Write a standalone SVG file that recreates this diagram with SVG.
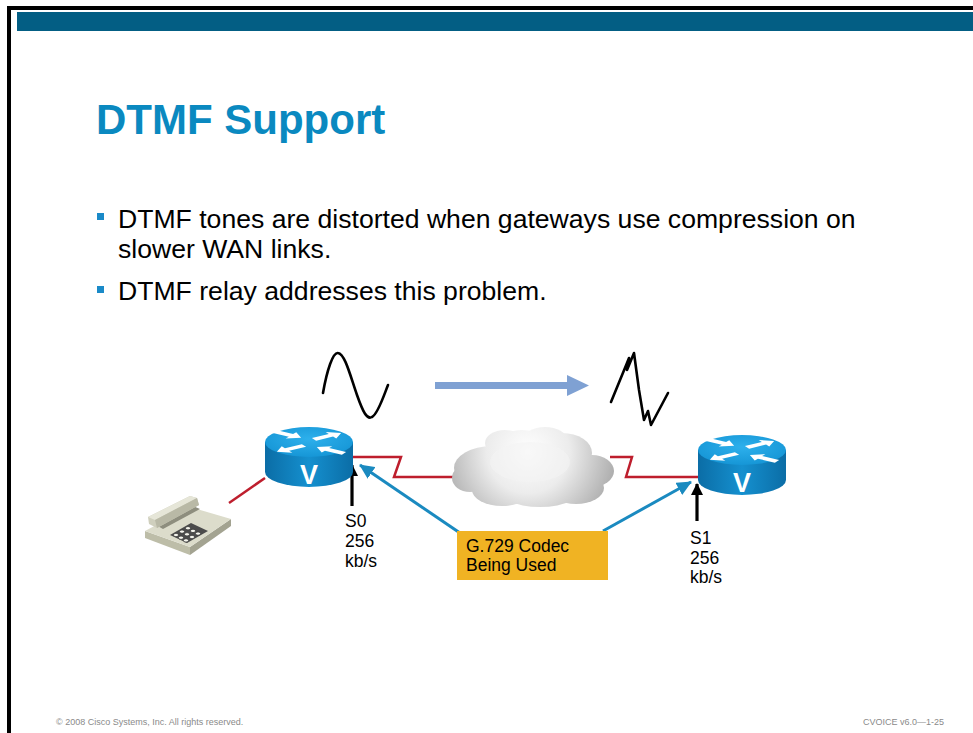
<svg xmlns="http://www.w3.org/2000/svg" width="973" height="733" viewBox="0 0 973 733">
  <style>
    .title { font-family: "Liberation Sans", Arial, sans-serif; font-weight: bold; font-size: 42px; fill: #0A89C0; }
    .bullet { font-family: "Liberation Sans", Arial, sans-serif; font-size: 26.6px; fill: #000; }
    .lbl { font-family: "Liberation Sans", Arial, sans-serif; font-size: 17.5px; fill: #000; }
    .foot { font-family: "Liberation Sans", Arial, sans-serif; font-size: 9px; fill: #8A8A8A; }
    .wan { fill: none; stroke: #BE1E2D; stroke-width: 2.5; }
    .wave { fill: none; stroke: #000; stroke-width: 2.6; stroke-linecap: round; stroke-linejoin: round; }
    .blue { fill: none; stroke: #1A8AC0; stroke-width: 3; }
    .blk { fill: none; stroke: #000; stroke-width: 3.2; }
    .vtxt { font-family: "Liberation Sans", Arial, sans-serif; font-weight: bold; font-size: 27px; fill: #fff; text-anchor: middle; }
    .key { fill: #F4F4EC; stroke: #3A3A3A; stroke-width: 0.8; }
  </style>
  <defs>
    <linearGradient id="side" x1="0" y1="0" x2="1" y2="0">
      <stop offset="0" stop-color="#0B6DA6"/>
      <stop offset="0.5" stop-color="#1590CF"/>
      <stop offset="1" stop-color="#0B6DA6"/>
    </linearGradient>
    <radialGradient id="top" cx="0.5" cy="0.4" r="0.6">
      <stop offset="0" stop-color="#2DB0EC"/>
      <stop offset="1" stop-color="#1696D6"/>
    </radialGradient>
    <radialGradient id="cloudG" gradientUnits="userSpaceOnUse" cx="528" cy="452" r="92">
      <stop offset="0" stop-color="#FFFFFF"/>
      <stop offset="0.45" stop-color="#ECECEC"/>
      <stop offset="1" stop-color="#A9A9A9"/>
    </radialGradient>
    <marker id="hdBlue" markerUnits="userSpaceOnUse" markerWidth="16" markerHeight="14" refX="14" refY="7" orient="auto">
      <path d="M0,0 L15,7 L0,14 Z" fill="#1A8AC0"/>
    </marker>
    <marker id="hdBlk" markerUnits="userSpaceOnUse" markerWidth="12" markerHeight="12" refX="11" refY="6" orient="auto">
      <path d="M0,0 L12,6 L0,12 Z" fill="#000"/>
    </marker>
    <!-- one flat arrow on the router lid, pointing along +x -->
    <path id="rarr" d="M0,-4 L20,-4 L20,-10 L32,0 L20,10 L20,4 L0,4 Z" fill="#fff"/>
    <!-- router icon centred on its lid -->
    <g id="router">
      <path d="M-44,0 L-44,30 A44,15 0 0 0 44,30 L44,0 Z" fill="url(#side)"/>
      <ellipse cx="0" cy="0" rx="44" ry="15" fill="url(#top)"/>
      <g transform="scale(1,0.38)">
        <use href="#rarr" transform="translate(-35,-28) rotate(32)"/>
        <use href="#rarr" transform="translate(35,30) rotate(212)"/>
        <use href="#rarr" transform="translate(5,-7) rotate(-32)"/>
        <use href="#rarr" transform="translate(-5,9) rotate(148)"/>
      </g>
    </g>
  </defs>

  <!-- slide frame -->
  <rect x="7" y="6" width="966" height="4" fill="#000"/>
  <rect x="7" y="6" width="4" height="727" fill="#000"/>
  <rect x="17" y="12" width="956" height="19" fill="#035E84"/>

  <text class="title" x="96" y="134">DTMF Support</text>

  <rect x="97" y="213" width="7" height="7" fill="#1A8AC8"/>
  <text class="bullet" x="118" y="228">DTMF tones are distorted when gateways use compression on</text>
  <text class="bullet" x="118" y="258">slower WAN links.</text>
  <rect x="97" y="286" width="7" height="7" fill="#1A8AC8"/>
  <text class="bullet" x="118" y="300">DTMF relay addresses this problem.</text>

  <!-- tone waveforms -->
  <path class="wave" d="M323,393 C327,370 333,352 338,353 C345,354 350,375 357,395 C363,412 367,420 372,417 C378,414 384,395 388,385"/>
  <path d="M435,382 H567 V375 L589,385.5 L567,396 V389 H435 Z" fill="#7FA1D3"/>
  <path class="wave" d="M611,402 L627,363 L629,358 L627,370 L634,353 L639,390 L644,420 L648,411 L651,425 L668,393"/>

  <!-- connectors -->
  <g id="links">
    <path class="wan" d="M229,503 L265,478"/>
    <path class="wan" d="M353,457 H401 L394,477 H456"/>
    <path class="wan" d="M610,457 H632 L626,477 H699"/>
    <path class="blk" d="M352,506 V465" marker-end="url(#hdBlk)"/>
    <path class="blk" d="M697,521 V484" marker-end="url(#hdBlk)"/>
    <path class="blue" d="M460,533 L360,465" marker-end="url(#hdBlue)"/>
    <path class="blue" d="M603,531 L691,482" marker-end="url(#hdBlue)"/>
  </g>

  <!-- WAN cloud -->
  <g id="cloud" fill="url(#cloudG)">
    <ellipse cx="470" cy="478" rx="18" ry="14"/>
    <ellipse cx="492" cy="468" rx="38" ry="22"/>
    <ellipse cx="505" cy="443" rx="20" ry="13"/>
    <ellipse cx="545" cy="440" rx="22" ry="13"/>
    <ellipse cx="522" cy="452" rx="30" ry="22"/>
    <ellipse cx="562" cy="453" rx="30" ry="20"/>
    <ellipse cx="592" cy="471" rx="22" ry="16"/>
    <ellipse cx="502" cy="490" rx="30" ry="16"/>
    <ellipse cx="576" cy="488" rx="28" ry="16"/>
    <ellipse cx="540" cy="486" rx="45" ry="21"/>
    <ellipse cx="530" cy="462" rx="40" ry="20" fill="#F4F4F4" opacity="0.6"/>
  </g>

  <!-- routers -->
  <g id="router-left">
    <use href="#router" x="309" y="442"/>
    <text class="vtxt" x="309" y="484">V</text>
  </g>
  <g id="router-right">
    <use href="#router" x="742" y="450"/>
    <text class="vtxt" x="742" y="492">V</text>
  </g>

  <!-- desk phone -->
  <g id="phone">
    <polygon points="145,531 190,547 190,555 145,538" fill="#BDBDA8"/>
    <polygon points="190,547 231,519 231,526 190,555" fill="#A3A391"/>
    <polygon points="145,531 190,507 231,519 190,547" fill="#DCDCCB"/>
    <!-- handset -->
    <polygon points="156,525 193,506 200,509 163,529" fill="#8E8E7E"/>
    <polygon points="149,524 148,517 190,496 197,498 199,505 157,528" fill="#CFCFBD"/>
    <polygon points="148,517 190,496 197,498 155,520" fill="#E6E6D8"/>
    <polygon points="197,498 199,505 157,528 155,520" fill="#B9B9A6"/>
    <!-- keypad -->
    <polygon points="170,535 191,523 208,531 187,543" fill="#4C4C4C"/>
    <g>
      <ellipse class="key" cx="176" cy="535" rx="2.6" ry="1.7"/>
      <ellipse class="key" cx="182" cy="531.6" rx="2.6" ry="1.7"/>
      <ellipse class="key" cx="188" cy="528.2" rx="2.6" ry="1.7"/>
      <ellipse class="key" cx="181" cy="537.7" rx="2.6" ry="1.7"/>
      <ellipse class="key" cx="187" cy="534.3" rx="2.6" ry="1.7"/>
      <ellipse class="key" cx="193" cy="530.9" rx="2.6" ry="1.7"/>
      <ellipse class="key" cx="186" cy="540.4" rx="2.6" ry="1.7"/>
      <ellipse class="key" cx="192" cy="537" rx="2.6" ry="1.7"/>
      <ellipse class="key" cx="198" cy="533.6" rx="2.6" ry="1.7"/>
    </g>
  </g>

  <!-- interface labels -->
  <g id="s0">
    <text class="lbl" x="345" y="527">S0</text>
    <text class="lbl" x="345" y="547">256</text>
    <text class="lbl" x="345" y="567">kb/s</text>
  </g>
  <g id="s1">
    <text class="lbl" x="690" y="544">S1</text>
    <text class="lbl" x="690" y="564">256</text>
    <text class="lbl" x="690" y="583">kb/s</text>
  </g>

  <g id="codec">
    <rect x="457" y="531" width="151" height="49" fill="#F0B323"/>
    <text class="lbl" x="466" y="552" font-size="18">G.729 Codec</text>
    <text class="lbl" x="466" y="571" font-size="18">Being Used</text>
  </g>

  <text class="foot" x="56" y="725">© 2008 Cisco Systems, Inc. All rights reserved.</text>
  <text class="foot" x="944" y="725" text-anchor="end">CVOICE v6.0—1-25</text>
</svg>
